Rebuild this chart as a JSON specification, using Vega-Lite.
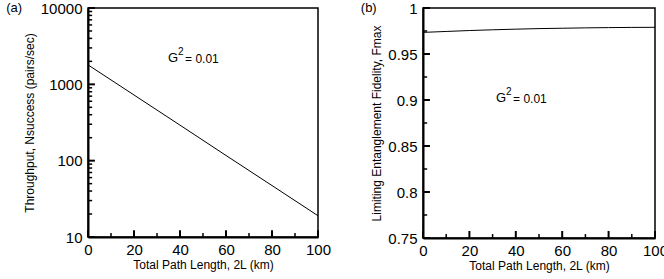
{
  "$schema": "https://vega.github.io/schema/vega-lite/v6.json",
  "padding": {"left": 5, "top": 0, "right": 5, "bottom": 2},
  "spacing": 28,
  "config": {
    "font": "Liberation Sans",
    "view": {"stroke": "black", "strokeWidth": 1.5},
    "axis": {
      "domainColor": "black", "domainWidth": 2,
      "labelColor": "black", "titleColor": "black", "labelFontSize": 15, "titleFontSize": 12,
      "titleFontWeight": "normal", "grid": false, "labelFont": "Liberation Sans", "titleFont": "Liberation Sans"
    },
    "title": {"fontSize": 13, "fontWeight": "normal", "anchor": "start", "color": "black", "font": "Liberation Sans", "frame": "bounds"}
  },
  "hconcat": [
    {
      "width": 230, "height": 229,
      "title": {"text": "(a)", "dx": -17, "offset": -14},
      "layer": [
        {
          "data": {"values": [
            {"L": 0, "N": 1800}, {"L": 20, "N": 725}, {"L": 40, "N": 292},
            {"L": 60, "N": 117}, {"L": 80, "N": 47.2}, {"L": 100, "N": 19}
          ]},
          "mark": {"type": "line", "color": "black", "strokeWidth": 1, "clip": true},
          "encoding": {
            "x": {"field": "L", "type": "quantitative", "scale": {"domain": [0, 100], "nice": false},
              "axis": {"title": "Total Path Length, 2L (km)", "values": [0,20,40,60,80,100], "orient": "bottom",
                "ticks": false, "labelPadding": 5, "titlePadding": 2, "labelFlush": false}},
            "y": {"field": "N", "type": "quantitative", "scale": {"type": "log", "domain": [10, 10000], "nice": false},
              "axis": {"title": "Throughput, Nsuccess (pairs/sec)", "values": [10, 100, 1000, 10000], "format": "d", "orient": "left",
                "ticks": false, "labelPadding": 6, "titlePadding": 4}}
          }
        },
        {
          "data": {"values": [{"v": 10}, {"v": 100}, {"v": 1000}, {"v": 10000}]},
          "mark": {"type": "rule", "color": "black", "strokeWidth": 2},
          "encoding": {"x": {"datum": 0}, "x2": {"datum": 3}, "y": {"field": "v", "type": "quantitative"}}
        },
        {
          "data": {"values": [{"v": 20},{"v": 30},{"v": 40},{"v": 50},{"v": 60},{"v": 70},{"v": 80},{"v": 90},
            {"v": 200},{"v": 300},{"v": 400},{"v": 500},{"v": 600},{"v": 700},{"v": 800},{"v": 900},
            {"v": 2000},{"v": 3000},{"v": 4000},{"v": 5000},{"v": 6000},{"v": 7000},{"v": 8000},{"v": 9000}]},
          "mark": {"type": "rule", "color": "black", "strokeWidth": 1.5},
          "encoding": {"x": {"datum": 0}, "x2": {"datum": 1.8}, "y": {"field": "v", "type": "quantitative"}}
        },
        {
          "data": {"values": [{"v": 0}, {"v": 20}, {"v": 40}, {"v": 60}, {"v": 80}, {"v": 100}]},
          "mark": {"type": "rule", "color": "black", "strokeWidth": 2},
          "encoding": {"x": {"field": "v", "type": "quantitative"}, "y": {"datum": 10}, "y2": {"datum": 12.3}}
        },
        {
          "data": {"values": [{"v": 10}, {"v": 30}, {"v": 50}, {"v": 70}, {"v": 90}]},
          "mark": {"type": "rule", "color": "black", "strokeWidth": 1.5},
          "encoding": {"x": {"field": "v", "type": "quantitative"}, "y": {"datum": 10}, "y2": {"datum": 11.3}}
        },
        {
          "data": {"values": [{"label": "G"}]},
          "mark": {"type": "text", "align": "left", "baseline": "middle", "fontSize": 13, "font": "Liberation Sans"},
          "encoding": {"text": {"field": "label"}, "x": {"datum": 34.8}, "y": {"datum": 2200}}
        },
        {
          "data": {"values": [{"label": "2"}]},
          "mark": {"type": "text", "align": "left", "baseline": "middle", "fontSize": 10, "dx": 10, "dy": -6, "font": "Liberation Sans"},
          "encoding": {"text": {"field": "label"}, "x": {"datum": 34.8}, "y": {"datum": 2200}}
        },
        {
          "data": {"values": [{"label": "= 0.01"}]},
          "mark": {"type": "text", "align": "left", "baseline": "middle", "fontSize": 12, "dx": 17, "dy": 1, "font": "Liberation Sans"},
          "encoding": {"text": {"field": "label"}, "x": {"datum": 34.8}, "y": {"datum": 2200}}
        }
      ]
    },
    {
      "width": 232, "height": 230,
      "title": {"text": "(b)", "dx": -10, "offset": -14},
      "layer": [
        {
          "data": {"values": [
            {"L": 0, "F": 0.9735}, {"L": 10, "F": 0.9745}, {"L": 20, "F": 0.9755}, {"L": 30, "F": 0.9763},
            {"L": 40, "F": 0.977}, {"L": 50, "F": 0.9776}, {"L": 60, "F": 0.978}, {"L": 70, "F": 0.9784},
            {"L": 80, "F": 0.9787}, {"L": 90, "F": 0.9789}, {"L": 100, "F": 0.979}
          ]},
          "mark": {"type": "line", "color": "black", "strokeWidth": 1, "clip": true},
          "encoding": {
            "x": {"field": "L", "type": "quantitative", "scale": {"domain": [0, 100], "nice": false},
              "axis": {"title": "Total Path Length, 2L (km)", "values": [0,20,40,60,80,100], "orient": "bottom",
                "ticks": false, "labelPadding": 5, "titlePadding": 2, "labelFlush": false}},
            "y": {"field": "F", "type": "quantitative", "scale": {"domain": [0.75, 1], "nice": false, "zero": false},
              "axis": {"title": "Limiting Entanglement Fidelity, Fmax", "values": [0.75, 0.8, 0.85, 0.9, 0.95, 1], "format": "~g", "orient": "left",
                "ticks": false, "labelPadding": 6, "titlePadding": 4}}
          }
        },
        {
          "data": {"values": [{"v": 0.75}, {"v": 0.8}, {"v": 0.85}, {"v": 0.9}, {"v": 0.95}, {"v": 1}]},
          "mark": {"type": "rule", "color": "black", "strokeWidth": 2},
          "encoding": {"x": {"datum": 0}, "x2": {"datum": 3}, "y": {"field": "v", "type": "quantitative"}}
        },
        {
          "data": {"values": [{"v": 0.775}, {"v": 0.825}, {"v": 0.875}, {"v": 0.925}, {"v": 0.975}]},
          "mark": {"type": "rule", "color": "black", "strokeWidth": 1.5},
          "encoding": {"x": {"datum": 0}, "x2": {"datum": 1.8}, "y": {"field": "v", "type": "quantitative"}}
        },
        {
          "data": {"values": [{"v": 0}, {"v": 20}, {"v": 40}, {"v": 60}, {"v": 80}, {"v": 100}]},
          "mark": {"type": "rule", "color": "black", "strokeWidth": 2},
          "encoding": {"x": {"field": "v", "type": "quantitative"}, "y": {"datum": 0.75}, "y2": {"datum": 0.7576}}
        },
        {
          "data": {"values": [{"v": 10}, {"v": 30}, {"v": 50}, {"v": 70}, {"v": 90}]},
          "mark": {"type": "rule", "color": "black", "strokeWidth": 1.5},
          "encoding": {"x": {"field": "v", "type": "quantitative"}, "y": {"datum": 0.75}, "y2": {"datum": 0.7543}}
        },
        {
          "data": {"values": [{"label": "G"}]},
          "mark": {"type": "text", "align": "left", "baseline": "middle", "fontSize": 13, "font": "Liberation Sans"},
          "encoding": {"text": {"field": "label"}, "x": {"datum": 31.5}, "y": {"datum": 0.902}}
        },
        {
          "data": {"values": [{"label": "2"}]},
          "mark": {"type": "text", "align": "left", "baseline": "middle", "fontSize": 10, "dx": 10, "dy": -6, "font": "Liberation Sans"},
          "encoding": {"text": {"field": "label"}, "x": {"datum": 31.5}, "y": {"datum": 0.902}}
        },
        {
          "data": {"values": [{"label": "= 0.01"}]},
          "mark": {"type": "text", "align": "left", "baseline": "middle", "fontSize": 12, "dx": 17, "dy": 1, "font": "Liberation Sans"},
          "encoding": {"text": {"field": "label"}, "x": {"datum": 31.5}, "y": {"datum": 0.902}}
        }
      ]
    }
  ]
}
